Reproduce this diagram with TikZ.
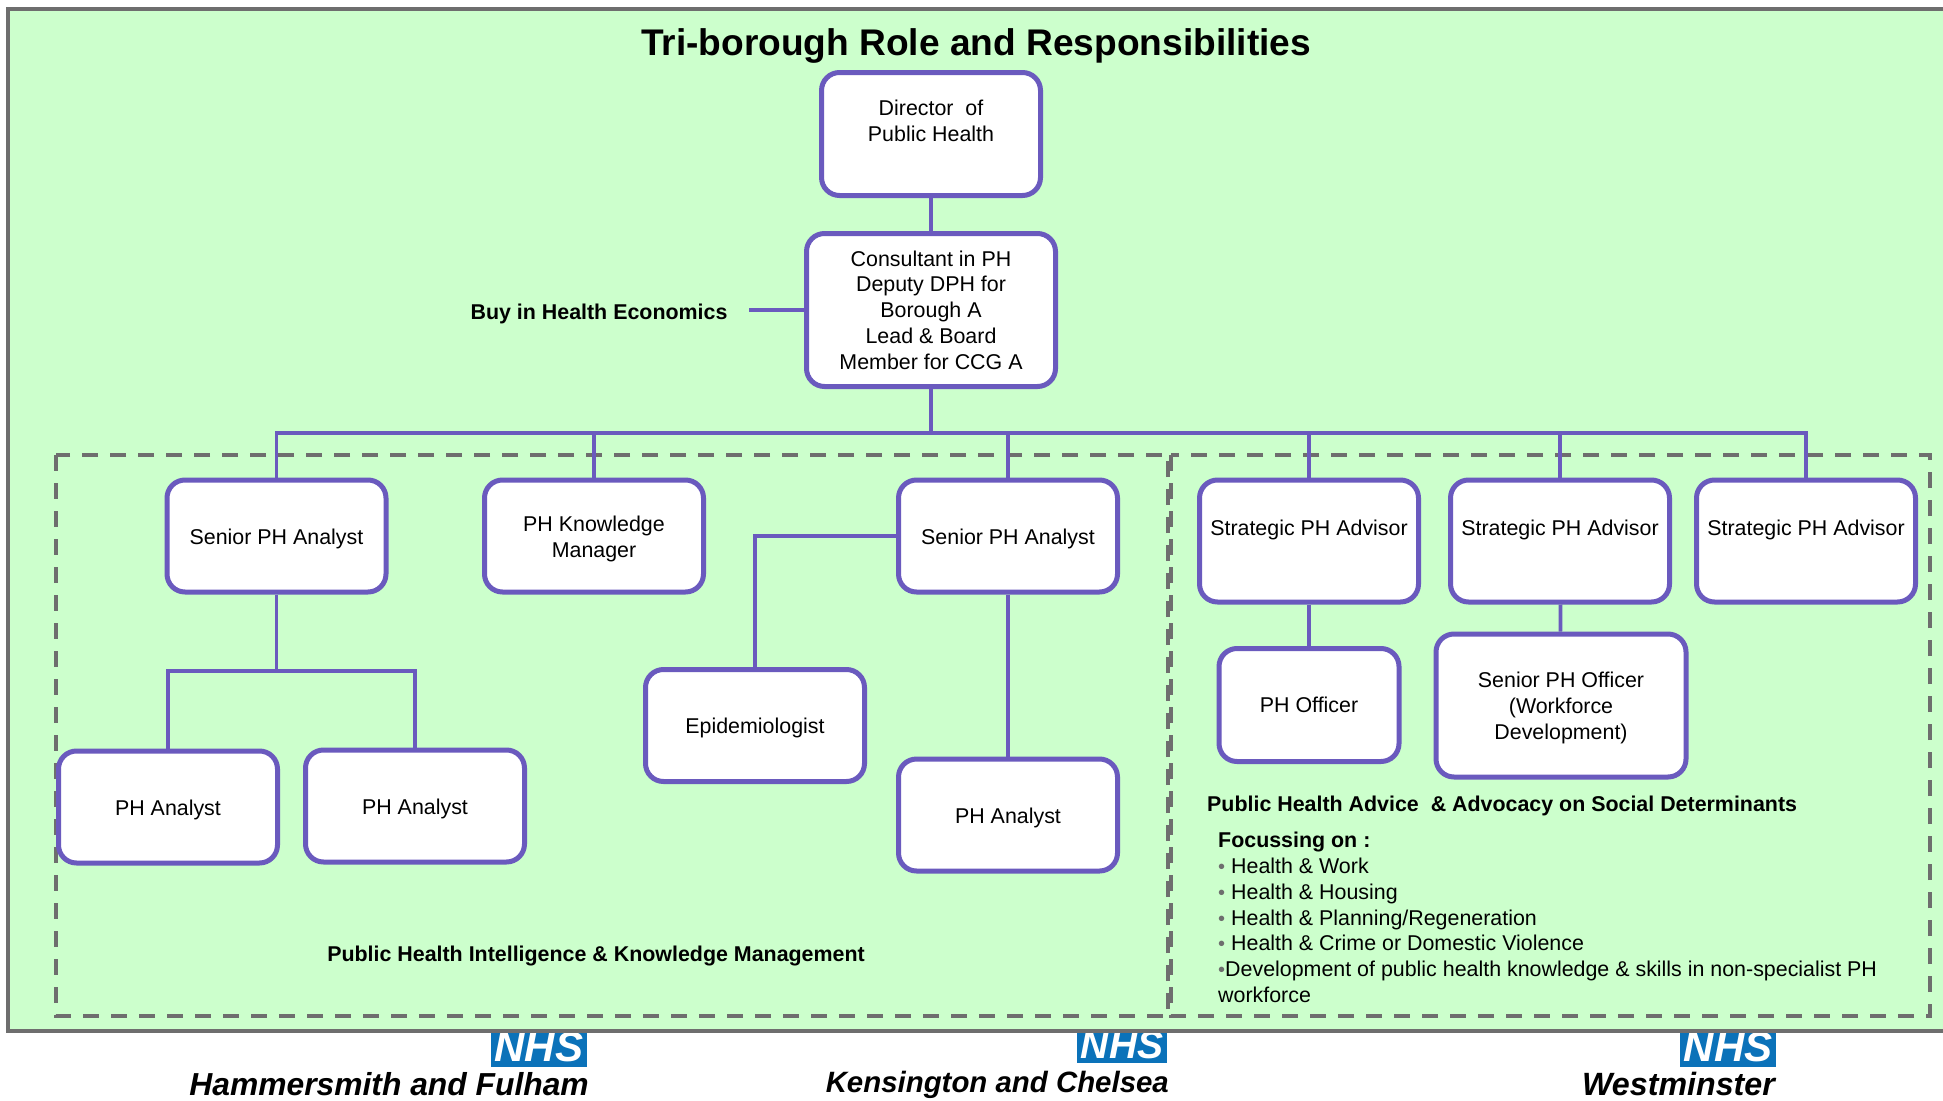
\documentclass[tikz,border=0pt]{standalone}
\usepackage{fontspec}
\setmainfont{Liberation Sans}
\usetikzlibrary{positioning}
\definecolor{panelgreen}{HTML}{CCFFCC}
\definecolor{framegrey}{HTML}{6E6E6E}
\definecolor{rolepurple}{HTML}{6A5ABE}
\definecolor{nhsblue}{HTML}{0B72B9}
\newcommand{\lift}{\rule{0pt}{21pt}}
\newcommand{\dotitem}{{\color{framegrey}\fontsize{20}{20}\selectfont\textbullet}}
\tikzset{
  role/.style={draw=rolepurple, fill=white, line width=5pt, rounded corners=18pt, align=center, inner sep=0pt, font=\fontsize{21.4}{25.8}\selectfont},
  rolewide/.style={role, minimum width=219pt, minimum height=112pt},
  link/.style={draw=rolepurple, line width=3.8pt},
  team/.style={draw=framegrey, line width=3.5pt, dash pattern=on 16pt off 12pt},
  caption/.style={inner sep=0pt, font=\fontsize{21.4}{25.8}\selectfont\bfseries},
  nhsbox/.style={fill=nhsblue, text=white, inner sep=0pt, font=\bfseries\itshape},
  borough/.style={inner sep=0pt, anchor=base east, font=\bfseries\itshape}
}
\begin{document}
\begin{tikzpicture}[x=1pt,y=-1pt]
    \useasboundingbox (0,0) rectangle (1943,1100);
    % logos go under the panel
    \node[nhsbox, minimum width=96pt, minimum height=40pt] (nhsA) at (539,1047) {\fontsize{42}{42}\selectfont NHS};
    \node[nhsbox, minimum width=90pt, minimum height=36pt] (nhsB) at (1122,1045) {\fontsize{39}{39}\selectfont NHS};
    \node[nhsbox, minimum width=96pt, minimum height=40pt] (nhsC) at (1728,1047) {\fontsize{42}{42}\selectfont NHS};
    \node[borough] (hf) at (589,1095) {\fontsize{31.8}{32}\selectfont Hammersmith and Fulham};
    \node[borough] (kc) at (1169,1092) {\fontsize{29.4}{30}\selectfont Kensington and Chelsea};
    \node[borough] (wm) at (1775,1095) {\fontsize{32.2}{33}\selectfont Westminster};
    \draw[framegrey, fill=panelgreen, line width=4pt] (8,9) rectangle (1960,1031);
    \draw[team] (56,455) rectangle (1168,1016);
    \draw[team] (1171,455) rectangle (1930,1016);

    \node[inner sep=0pt, font=\fontsize{37.1}{44}\selectfont\bfseries] (title) at (976,46) {Tri-borough Role and Responsibilities};

    \node[role, minimum width=219pt, minimum height=123pt] (dph) at (931,134) {Director~ of\\Public Health\\~};
    \node[role, minimum width=249pt, minimum height=153pt] (cons) at (931,310) {Consultant in PH\\Deputy DPH for\\Borough A\\Lead \& Board\\Member for CCG A};

    \node[rolewide] (snrA) at (276.5,536) {\lift Senior PH Analyst};
    \node[rolewide] (know) at (594,536) {\lift PH Knowledge\\Manager};
    \node[rolewide] (snrB) at (1008,536) {\lift Senior PH Analyst};
    \node[rolewide, minimum height=122pt] (advA) at (1309,541) {Strategic PH Advisor\\~};
    \node[rolewide, minimum height=122pt] (advB) at (1560,541) {Strategic PH Advisor\\~};
    \node[rolewide, minimum height=122pt] (advC) at (1806,541) {Strategic PH Advisor\\~};

    \node[rolewide] (anaA) at (168,807) {\lift PH Analyst};
    \node[rolewide] (anaB) at (415,806) {\lift PH Analyst};
    \node[rolewide] (epi) at (755,725.5) {\lift Epidemiologist};
    \node[rolewide] (anaC) at (1008,815) {\lift PH Analyst};
    \node[role, minimum width=180pt, minimum height=113pt] (off) at (1309,705) {PH Officer};
    \node[role, minimum width=250pt, minimum height=143pt] (snrOff) at (1561,705.5) {\lift Senior PH Officer\\(Workforce\\Development)};

    \node[caption] (buy) at (599,314) {Buy in Health Economics};
    \coordinate (buyend) at (749,310);
    \node[caption] (pik) at (596,956) {Public Health Intelligence \& Knowledge Management};
    \node[caption, anchor=west] (adv) at (1207,806) {Public Health Advice~ \& Advocacy on Social Determinants};
    \node[anchor=north west, inner sep=0pt, align=left, font=\fontsize{21.4}{25.8}\selectfont] (focus) at (1218,832) {\textbf{Focussing on :}\\
    \dotitem\ Health \& Work\\
    \dotitem\ Health \& Housing\\
    \dotitem\ Health \& Planning/Regeneration\\
    \dotitem\ Health \& Crime or Domestic Violence\\
    \dotitem Development of public health knowledge \& skills in non-specialist PH\\
    workforce};

    \coordinate (bus) at (931,433);
    \draw[link] (dph) -- (cons);
    \draw[link] (buyend) -- (cons.west |- buyend);
    \draw[link] (cons) -- (bus);
    \foreach \kid in {snrA,know,snrB,advA,advB,advC}
        \draw[link] (\kid.north) |- (bus);
    \coordinate (forkA) at (276.5,671);
    \draw[link] (snrA) -- (forkA);
    \draw[link] (anaA.north) |- (forkA);
    \draw[link] (anaB.north) |- (forkA);
    \draw[link] (snrB.west) -| (epi.north);
    \draw[link] (snrB) -- (anaC);
    \draw[link] (advA) -- (off);
    \draw[link] (advB) -- (snrOff);
\end{tikzpicture}
\end{document}
